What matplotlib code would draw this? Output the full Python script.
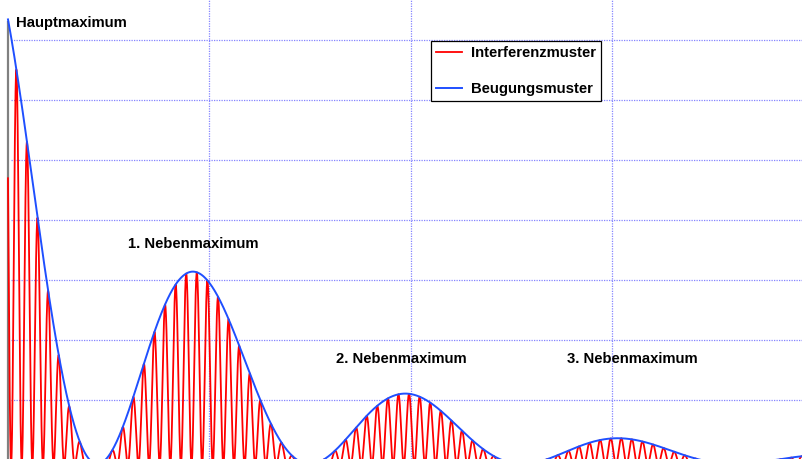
import numpy as np
import matplotlib
matplotlib.use("Agg")
import matplotlib.pyplot as plt

plt.rcParams['font.family'] = ['Liberation Sans', 'DejaVu Sans']

# ---- values (x in grid units, intensity in grid units) ----
series_names = ["Interferenzmuster", "Beugungsmuster"]
peak_labels = ["Hauptmaximum", "1. Nebenmaximum", "2. Nebenmaximum", "3. Nebenmaximum"]
label_x = [0.040, 0.596, 1.629, 2.777]
label_y = [7.29, 3.60, 1.68, 1.68]

envelope_amplitude = 8.54     # height of the (off-axis) main maximum
envelope_center = -0.0835     # x of the main maximum
lobe_spacing = 1.0551         # distance between envelope zeros
decay_length = 1.0497         # each side lobe ~0.37 of the previous
fringe_period = 0.05271       # period of the interference fringes
fringe_peak = 0.7799          # x of one fringe maximum

x_grid = [1, 2, 3]
y_grid = [1.0667, 2.0667, 3.0667, 4.0667, 5.0667, 6.0667, 7.0667]
x_range = (-0.0397, 3.949)
y_range = (0.0833, 7.733)
axis_top = 7.383

# ---- curves ----
x = np.linspace(0, x_range[1], 6000)
t = x - envelope_center
envelope = envelope_amplitude * np.exp(-t / decay_length) * np.cos(np.pi * t / lobe_spacing) ** 2
pattern = envelope * np.cos(np.pi * (x - fringe_peak) / fringe_period) ** 2

fig = plt.figure(figsize=(8.03, 4.59), dpi=100)
ax = fig.add_axes([0, 0, 1, 1])
ax.set_xlim(*x_range)
ax.set_ylim(*y_range)
for s in ax.spines.values():
    s.set_visible(False)
ax.set_xticks([])
ax.set_yticks([])

grid_kw = dict(color='#8585ff', linewidth=0.9, linestyle=(0, (1, 1.0)), zorder=1)
for gx in x_grid:
    ax.axvline(gx, **grid_kw)
for gy in y_grid:
    ax.hlines(gy, 0.015, x_range[1], **grid_kw)

ax.vlines(0, y_range[0], axis_top, color='#808080', linewidth=1.6, zorder=2)

ax.plot(x, pattern, color='#ff0000', linewidth=1.3, label=series_names[0], zorder=3)
ax.plot(x, envelope, color='#1f4fff', linewidth=1.4, label=series_names[1], zorder=4)

for txt, lx, ly in zip(peak_labels, label_x, label_y):
    ax.text(lx, ly, txt, fontsize=10.7, fontweight='bold', ha='left', va='baseline',
            color='black', zorder=5)

leg = ax.legend(loc='upper left', bbox_to_anchor=(0.5367, 0.9107), borderaxespad=0,
                fancybox=False, framealpha=1, edgecolor='black',
                prop={'weight': 'bold', 'size': 10.7},
                handlelength=1.75, handletextpad=0.6, labelspacing=1.45,
                borderpad=0.35)
leg.get_frame().set_linewidth(0.9)
leg.set_zorder(6)

fig.savefig('out.png', dpi=100)
